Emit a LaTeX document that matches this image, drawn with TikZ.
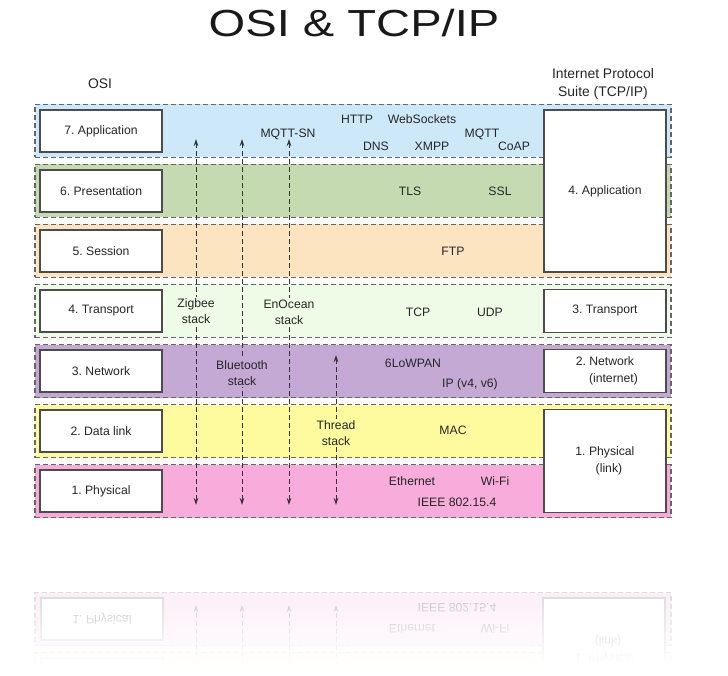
\documentclass[tikz,border=0pt]{standalone}
\usepackage{fontspec}
\setsansfont{Liberation Sans}
\usetikzlibrary{calc, arrows.meta, positioning, fadings}

% layer colours
\definecolor{appblue}{HTML}{CDE9F9}
\definecolor{presgreen}{HTML}{C6DAB1}
\definecolor{sesspeach}{HTML}{FDE4C0}
\definecolor{transgreen}{HTML}{EEFBE6}
\definecolor{netpurple}{HTML}{C3A9D3}
\definecolor{linkyellow}{HTML}{FDFB9E}
\definecolor{physpink}{HTML}{F7ACDC}

\tikzfading[name=fadeaway, top color=transparent!100, bottom color=transparent!0]

\begin{document}
\frenchspacing
\begin{tikzpicture} [x=1pt, y=-1pt, node distance=5.9pt,
		% define styles
		bandstyle/.style={
			% The shape:
			rectangle,
			% The size:
			minimum width=636pt, minimum height=53pt, inner sep=0pt,
			% The border:
			draw=black!60, line width=1.1pt,
			dash pattern=on 5pt off 3pt
		},
		layernodestyle/.style={
			% The shape:
			rectangle,
			% The size:
			minimum width=122pt, minimum height=42pt,
			% The border:
			draw=black!70, line width=1.2pt,
			% The filling:
			fill=white,
			% Font
			align=center, text=black!85,
			font=\sffamily\fontsize{12.2pt}{17pt}\selectfont
		},
		headstyle/.style={
			align=center, text=black!85,
			font=\sffamily\fontsize{13.9pt}{18pt}\selectfont
		},
		protostyle/.style={
			inner sep=0pt, text height=8.8pt, text depth=0pt,
			text=black!85,
			font=\sffamily\fontsize{12.2pt}{16pt}\selectfont
		},
		stacklabel/.style={
			align=center, inner sep=1.5pt, text=black!85,
			font=\sffamily\fontsize{12.2pt}{16pt}\selectfont
		},
		stackarrow/.style={
			<->,
			% Thickness
			line width=1pt,
			>={Stealth[length=7pt, width=4.5pt]},
			dash pattern=on 5pt off 3pt,
			% Color
			black!80
		}]
		% end of style definition
		\useasboundingbox (0,0) rectangle (728,676);

		% headings
		\node (iTitle) [anchor=base, xscale=1.25, text=black!90,
			font=\sffamily\fontsize{37.7pt}{40pt}\selectfont] at (354,37) {OSI \& TCP/IP};
		\node (iOsiHead) [headstyle] at (100,84) {OSI};
		\node (iTcpHead) [headstyle] at (603,84) {Internet Protocol\\Suite (TCP/IP)};

		% draw layer bands
		\node (iBand7) [bandstyle, fill=appblue] at (353,131) {};
		\node (iBand6) [bandstyle, fill=presgreen, below = of iBand7] {};
		\node (iBand5) [bandstyle, fill=sesspeach, below = of iBand6] {};
		\node (iBand4) [bandstyle, fill=transgreen, below = of iBand5] {};
		\node (iBand3) [bandstyle, fill=netpurple, below = of iBand4] {};
		\node (iBand2) [bandstyle, fill=linkyellow, below = of iBand3] {};
		\node (iBand1) [bandstyle, fill=physpink, below = of iBand2] {};

		% OSI layers
		\node (iOsi7) [layernodestyle, right = 5pt of iBand7.west] {7. Application};
		\node (iOsi6) [layernodestyle, right = 5pt of iBand6.west] {6. Presentation};
		\node (iOsi5) [layernodestyle, right = 5pt of iBand5.west] {5. Session};
		\node (iOsi4) [layernodestyle, right = 5pt of iBand4.west] {4. Transport};
		\node (iOsi3) [layernodestyle, right = 5pt of iBand3.west] {3. Network};
		\node (iOsi2) [layernodestyle, right = 5pt of iBand2.west] {2. Data link};
		\node (iOsi1) [layernodestyle, right = 5pt of iBand1.west] {1. Physical};

		% TCP/IP layers
		\node (iTcp4) [layernodestyle, minimum height=162pt, left = 5pt of iBand6.east] {4. Application};
		\node (iTcp3) [layernodestyle, minimum height=43pt, left = 5pt of iBand4.east] {3. Transport};
		\node (iTcp2) [layernodestyle, minimum height=43pt, left = 5pt of iBand3.east] {2. Network\\\hspace*{17pt}(internet)};
		\node (iTcp1) [layernodestyle, minimum height=103pt, anchor=east]
			at ($(iBand2.east)!0.5!(iBand1.east)+(-5pt,0)$) {1. Physical\\\hspace*{8pt}(link)};

		% protocols
		\node (iHttp) [protostyle] at (357,119) {HTTP};
		\node (iWebSockets) [protostyle] at (422,119) {WebSockets};
		\node (iMqttSn) [protostyle] at (288,133) {MQTT-SN};
		\node (iMqtt) [protostyle] at (482,133) {MQTT};
		\node (iDns) [protostyle] at (376,146) {DNS};
		\node (iXmpp) [protostyle] at (432,146) {XMPP};
		\node (iCoap) [protostyle] at (514,146) {CoAP};
		\node (iTls) [protostyle] at (410,191) {TLS};
		\node (iSsl) [protostyle] at (500,191) {SSL};
		\node (iFtp) [protostyle] at (453,251) {FTP};
		\node (iTcp) [protostyle] at (418,312) {TCP};
		\node (iUdp) [protostyle] at (490,312) {UDP};
		\node (iLowpan) [protostyle] at (413,363) {6LoWPAN};
		\node (iIp) [protostyle] at (470,383) {IP (v4, v6)};
		\node (iMac) [protostyle] at (453,430) {MAC};
		\node (iEthernet) [protostyle] at (412,481) {Ethernet};
		\node (iWifi) [protostyle] at (495,481) {Wi-Fi};
		\node (iIeee) [protostyle] at (457,502) {IEEE 802.15.4};

		% stack arrows
		\coordinate (zZigbeeTop) at (196,139);
		\coordinate (zZigbeeBot) at (196,505);
		\coordinate (zBluetoothTop) at (242,139);
		\coordinate (zBluetoothBot) at (242,505);
		\coordinate (zEnOceanTop) at (289,139);
		\coordinate (zEnOceanBot) at (289,505);
		\coordinate (zThreadTop) at (336,355);
		\coordinate (zThreadBot) at (336,505);
		\draw [stackarrow] (zZigbeeTop) -- (zZigbeeBot);
		\draw [stackarrow] (zBluetoothTop) -- (zBluetoothBot);
		\draw [stackarrow] (zEnOceanTop) -- (zEnOceanBot);
		\draw [stackarrow] (zThreadTop) -- (zThreadBot);

		\node (iZigbee) [stacklabel, fill=transgreen] at (196,311) {Zigbee\\stack};
		\node (iEnOcean) [stacklabel, fill=transgreen] at (289,312) {EnOcean\\stack};
		\node (iBluetooth) [stacklabel, fill=netpurple] at (242,373) {Bluetooth\\stack};
		\node (iThread) [stacklabel, fill=linkyellow] at (336,433) {Thread\\stack};

		% reflection
		\begin{scope}[shift={(0,1110)}, yscale=-1, transform shape]
			\node (rBand2) [bandstyle, draw=black!15, fill=linkyellow!22] at (353,431) {};
			\node (rBand1) [bandstyle, draw=black!15, fill=physpink!22] at (353,491) {};
			\node (rOsi2) [layernodestyle, draw=black!15] at (102,431) {};
			\node (rOsi1) [layernodestyle, draw=black!15, text=black!25] at (102,491) {1. Physical};
			\node (rTcp1) [layernodestyle, draw=black!15, text=black!25, minimum height=103pt] at (604,460.5) {1. Physical\\\hspace*{8pt}(link)};
			\node (rEthernet) [protostyle, text=black!25] at (412,481) {Ethernet};
			\node (rWifi) [protostyle, text=black!25] at (495,481) {Wi-Fi};
			\node (rIeee) [protostyle, text=black!25] at (457,502) {IEEE 802.15.4};
			\coordinate (rZigbeeTop) at (196,420);
			\coordinate (rZigbeeBot) at (196,505);
			\coordinate (rBluetoothTop) at (242,420);
			\coordinate (rBluetoothBot) at (242,505);
			\coordinate (rEnOceanTop) at (289,420);
			\coordinate (rEnOceanBot) at (289,505);
			\coordinate (rThreadTop) at (336,420);
			\coordinate (rThreadBot) at (336,505);
			\draw [stackarrow, -{Stealth[length=7pt, width=4.5pt]}, black!22] (rZigbeeTop) -- (rZigbeeBot);
			\draw [stackarrow, -{Stealth[length=7pt, width=4.5pt]}, black!22] (rBluetoothTop) -- (rBluetoothBot);
			\draw [stackarrow, -{Stealth[length=7pt, width=4.5pt]}, black!22] (rEnOceanTop) -- (rEnOceanBot);
			\draw [stackarrow, -{Stealth[length=7pt, width=4.5pt]}, black!22] (rThreadTop) -- (rThreadBot);
		\end{scope}
		\fill [white, path fading=fadeaway] (0,585) rectangle (728,665);
		\fill [white] (0,665) rectangle (728,676);
	\end{tikzpicture}
\end{document}
